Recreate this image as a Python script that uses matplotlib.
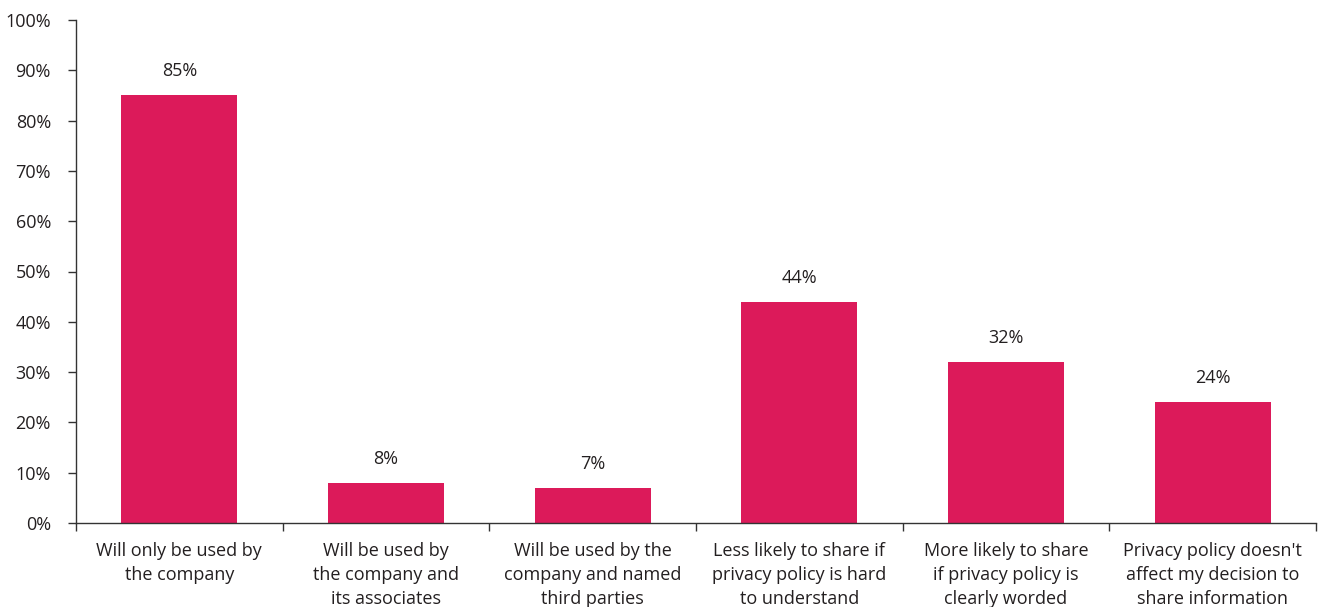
import matplotlib
matplotlib.use("Agg")
import matplotlib.pyplot as plt
import numpy as np

categories = [
    "Will only be used by\nthe company",
    "Will be used by\nthe company and\nits associates",
    "Will be used by the\ncompany and named\nthird parties",
    "Less likely to share if\nprivacy policy is hard\nto understand",
    "More likely to share\nif privacy policy is\nclearly worded",
    "Privacy policy doesn't\naffect my decision to\nshare information",
]
values = [85, 8, 7, 44, 32, 24]
yticks = [0, 10, 20, 30, 40, 50, 60, 70, 80, 90, 100]

plt.rcParams["font.family"] = ["Open Sans", "DejaVu Sans"]

W, H = 1320, 607
fig = plt.figure(figsize=(W / 100, H / 100), dpi=100)
ax = fig.add_axes([76 / W, 1 - 523 / H, (1316 - 76) / W, (523 - 20) / H])

text_color = "#231F20"
bar_color = "#DC1A5A"
x = np.arange(len(categories))
ax.bar(x, values, width=0.56, color=bar_color, zorder=2)
for xi, v in zip(x, values):
    ax.text(xi, v + 4.8, f"{v}%", ha="center", va="center", fontsize=13, color=text_color)

ax.set_xlim(-0.5, len(categories) - 0.5)
ax.set_ylim(0, 100)
ax.set_yticks(yticks)
ax.set_yticklabels([f"{t}%" for t in yticks])
ax.set_xticks(x)
ax.set_xticklabels(categories, fontsize=13, linespacing=1.45, color=text_color, va="top")
ax.set_xticks(np.arange(-0.5, len(categories)), minor=True)

ax.tick_params(axis="x", which="major", length=0, pad=13.5)
ax.tick_params(axis="x", which="minor", length=6, width=1, color="#333333", direction="out")
ax.tick_params(axis="y", length=6, width=1, color="#333333", direction="out", labelsize=13,
               labelcolor=text_color, pad=12)

for side in ["top", "right"]:
    ax.spines[side].set_visible(False)
for side in ["left", "bottom"]:
    ax.spines[side].set_color("#333333")
    ax.spines[side].set_linewidth(1)

fig.savefig("out.png", dpi=100)
